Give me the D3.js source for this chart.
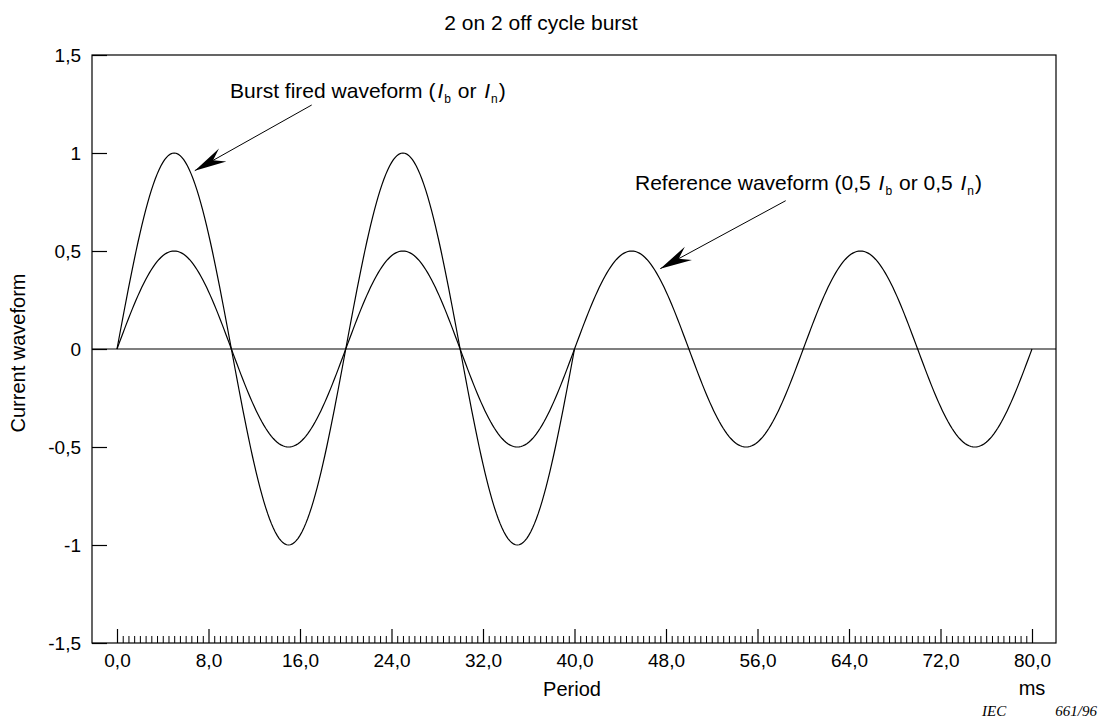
<!DOCTYPE html>
<html>
<head>
<meta charset="utf-8">
<script src="https://cdn.jsdelivr.net/npm/d3@7"></script>
<style>
  html, body { margin: 0; padding: 0; background: #fff; }
  svg { display: block; font-family: "Liberation Sans", Arial, sans-serif; }
</style>
</head>
<body>
<svg id="chart" width="1104" height="722"></svg>
<script>
// Waveform description: each half-cycle lasts 10 ms (50 Hz mains),
// values are the peak current of each successive half-cycle.
const halfCycleMs = 10;
const burstHalfCyclePeaks = [1, -1, 1, -1];                                // 2 cycles on
const referenceHalfCyclePeaks = [0.5, -0.5, 0.5, -0.5, 0.5, -0.5, 0.5, -0.5]; // continuous reference

// Axis ticks
const xMajorTicks = [0, 8, 16, 24, 32, 40, 48, 56, 64, 72, 80];
const xMinorStep = 0.5;
const yTickValues = [-1.5, -1, -0.5, 0, 0.5, 1, 1.5];
const yTickLabels = ["-1,5", "-1", "-0,5", "0", "0,5", "1", "1,5"];

// Texts
const titleText = "2 on 2 off cycle burst";
const xAxisTitle = "Period";
const xUnit = "ms";
const yAxisTitle = "Current waveform";
const figureRefA = "IEC";
const figureRefB = "661/96";

const svg = d3.select("#chart");

const frame = { left: 92, right: 1056, top: 55, bottom: 643 };
const x = d3.scaleLinear().domain([0, 80]).range([117, 1032]);
const y = d3.scaleLinear().domain([-1.5, 1.5]).range([frame.bottom, frame.top]);

const commaFmt = d3.formatLocale({ decimal: ",", thousands: ".", grouping: [3], currency: ["", ""] }).format(".1f");

// Build sampled points for a sequence of half-sine lobes
function lobePoints(peaks) {
  const pts = [];
  const steps = 60;
  peaks.forEach((peak, k) => {
    for (let i = (k === 0 ? 0 : 1); i <= steps; i++) {
      const f = i / steps;
      pts.push([(k + f) * halfCycleMs, peak * Math.sin(Math.PI * f)]);
    }
  });
  return pts;
}

// Zero line
svg.append("line")
  .attr("x1", frame.left).attr("x2", frame.right)
  .attr("y1", y(0)).attr("y2", y(0))
  .attr("stroke", "#000").attr("stroke-width", 1.2);

// Frame
svg.append("rect")
  .attr("x", frame.left).attr("y", frame.top)
  .attr("width", frame.right - frame.left).attr("height", frame.bottom - frame.top)
  .attr("fill", "none").attr("stroke", "#000").attr("stroke-width", 1.2);

// Y axis: ticks point inward, labels outside
const yAxis = d3.axisLeft(y)
  .tickValues(yTickValues)
  .tickFormat((d, i) => yTickLabels[i])
  .tickSizeInner(-15).tickSizeOuter(0).tickPadding(11);
const gy = svg.append("g").attr("transform", `translate(${frame.left},0)`).call(yAxis);
gy.select(".domain").remove();
gy.selectAll("line").attr("stroke-width", 1.2);
gy.selectAll("text").attr("font-size", 19).attr("fill", "#000")
  .attr("font-family", '"Liberation Sans", Arial, sans-serif');

// X axis: minor ticks every 0.5 ms, major every 8 ms
const minorVals = d3.range(0, 80 + 1e-9, xMinorStep).filter(v => !xMajorTicks.includes(v));
const gxMinor = svg.append("g").attr("transform", `translate(0,${frame.bottom})`)
  .call(d3.axisBottom(x).tickValues(minorVals).tickFormat("").tickSizeInner(-7).tickSizeOuter(0));
gxMinor.select(".domain").remove();
gxMinor.selectAll("line").attr("stroke-width", 1);

const gx = svg.append("g").attr("transform", `translate(0,${frame.bottom})`)
  .call(d3.axisBottom(x).tickValues(xMajorTicks).tickFormat(commaFmt)
    .tickSizeInner(-14).tickSizeOuter(0).tickPadding(11));
gx.select(".domain").remove();
gx.selectAll("line").attr("stroke-width", 1.2);
gx.selectAll("text").attr("font-size", 19).attr("fill", "#000")
  .attr("font-family", '"Liberation Sans", Arial, sans-serif');

// Waveforms
const line = d3.line().x(d => x(d[0])).y(d => y(d[1]));
svg.append("path").datum(lobePoints(referenceHalfCyclePeaks))
  .attr("d", line).attr("fill", "none").attr("stroke", "#000").attr("stroke-width", 1.2);
svg.append("path").datum(lobePoints(burstHalfCyclePeaks))
  .attr("d", line).attr("fill", "none").attr("stroke", "#000").attr("stroke-width", 1.2);

// Titles
svg.append("text").attr("x", 541).attr("y", 30).attr("text-anchor", "middle")
  .attr("font-size", 21).text(titleText);
svg.append("text").attr("x", 572).attr("y", 696).attr("text-anchor", "middle")
  .attr("font-size", 20).text(xAxisTitle);
svg.append("text").attr("x", x(80)).attr("y", 695).attr("text-anchor", "middle")
  .attr("font-size", 20).text(xUnit);
svg.append("text").attr("transform", "translate(25,353) rotate(-90)")
  .attr("text-anchor", "middle").attr("font-size", 20).text(yAxisTitle);
const refFont = '"Liberation Serif", "Times New Roman", serif';
svg.append("text").attr("x", 982).attr("y", 716)
  .attr("font-family", refFont).attr("font-style", "italic").attr("font-size", 15).text(figureRefA);
svg.append("text").attr("x", 1097).attr("y", 716).attr("text-anchor", "end")
  .attr("font-family", refFont).attr("font-style", "italic").attr("font-size", 15).text(figureRefB);

// Annotations with barbed arrows
function annotate(textX, textY, parts, from, to) {
  const t = svg.append("text").attr("x", textX).attr("y", textY).attr("font-size", 21);
  parts.forEach(p => {
    const ts = t.append("tspan").text(p.t);
    if (p.italic) ts.attr("font-style", "italic").attr("dx", 2);
    if (p.sub) ts.attr("font-size", 12).attr("dy", 5).attr("dx", 1);
    if (p.up) ts.attr("dy", -5).attr("dx", 1);
  });
  svg.append("line")
    .attr("x1", from[0]).attr("y1", from[1]).attr("x2", to[0]).attr("y2", to[1])
    .attr("stroke", "#000").attr("stroke-width", 1);
  const ang = Math.atan2(to[1] - from[1], to[0] - from[0]) * 180 / Math.PI;
  svg.append("path")
    .attr("d", "M0,0 L-32,-7.5 L-21,0 L-32,7.5 Z")
    .attr("transform", `translate(${to[0]},${to[1]}) rotate(${ang})`)
    .attr("fill", "#000");
}

annotate(230, 98, [
  { t: "Burst fired waveform (" },
  { t: "I", italic: true },
  { t: "b", sub: true },
  { t: " or ", up: true },
  { t: "I", italic: true },
  { t: "n", sub: true },
  { t: ")", up: true }
], [311.7, 105], [x(6.8), y(0.91)]);

annotate(635, 190, [
  { t: "Reference waveform (0,5 " },
  { t: "I", italic: true },
  { t: "b", sub: true },
  { t: " or 0,5 ", up: true },
  { t: "I", italic: true },
  { t: "n", sub: true },
  { t: ")", up: true }
], [785.7, 200.7], [x(47.5), y(0.41)]);
</script>
</body>
</html>
